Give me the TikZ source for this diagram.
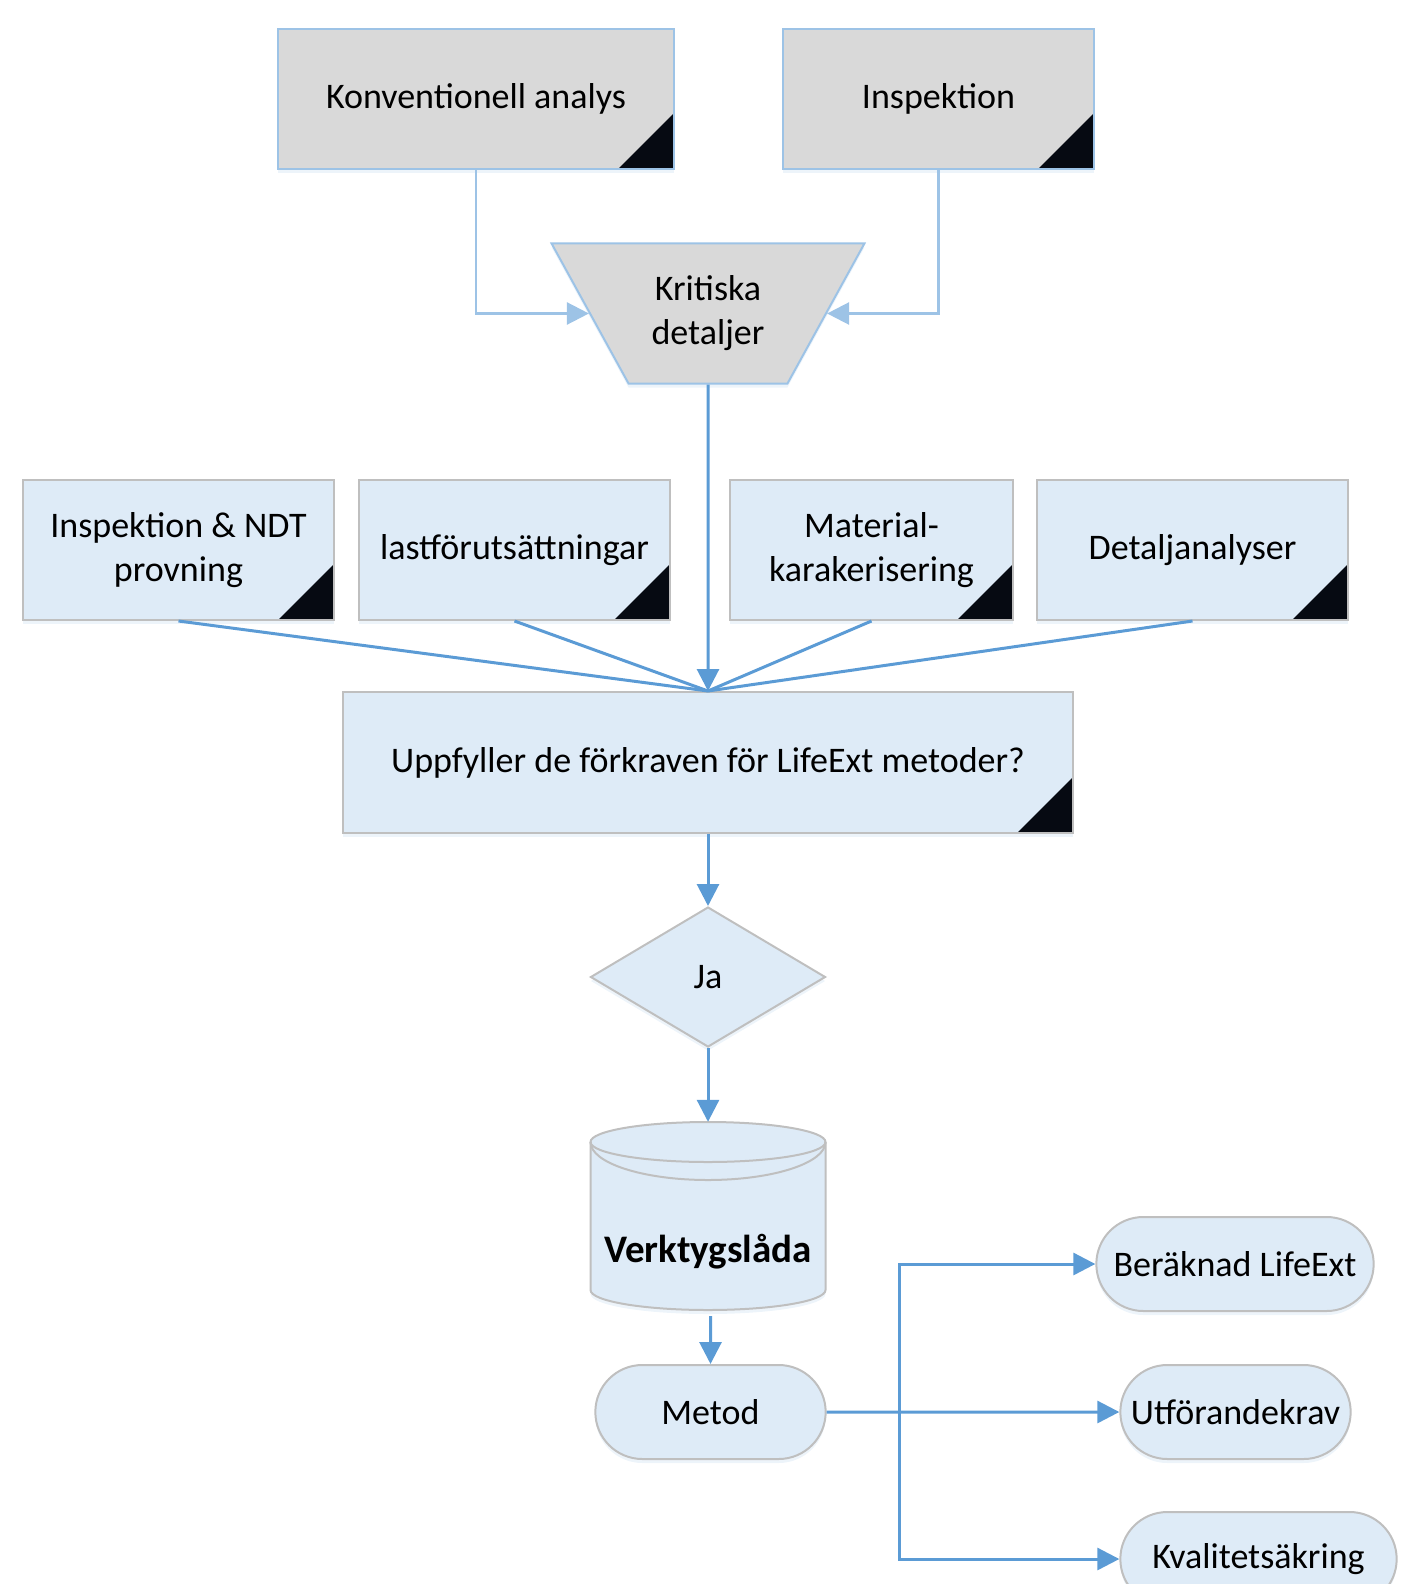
\documentclass[tikz,border=0pt]{standalone}
\usepackage{fontspec}
\setmainfont{Carlito}
\usetikzlibrary{positioning,shapes.geometric,shapes.misc,arrows.meta,shadows}
\definecolor{grayfill}{HTML}{D9D9D9}
\definecolor{lightedge}{HTML}{9DC3E6}
\definecolor{bluefill}{HTML}{DEEBF7}
\definecolor{grayedge}{HTML}{BFBFBF}
\definecolor{flowblue}{HTML}{5B9BD5}
\definecolor{tipdark}{HTML}{060A12}
\tikzset{
  darktip/.style={path picture={\fill[tipdark] (path picture bounding box.south east) -- ++(-56pt,0pt) -- ++(56pt,56pt) -- cycle;}},
  softshadow/.style={drop shadow={opacity=0.18,shadow xshift=0pt,shadow yshift=-4pt,fill=lightedge}},
  txt/.style={font=\fontsize{36}{44}\selectfont,align=center,text=black}
}
\begin{document}
\begin{tikzpicture}[x=1pt,y=-1pt,
  topbox/.style={txt,draw=lightedge,fill=grayfill,line width=2pt,minimum height=140pt,softshadow,darktip},
  midbox/.style={txt,draw=grayedge,fill=bluefill,line width=2pt,minimum height=140pt,softshadow,darktip},
  pill/.style={txt,rounded rectangle,draw=grayedge,fill=bluefill,line width=2pt,minimum height=94pt,softshadow},
  feed/.style={draw=lightedge,line width=2.5pt,-{Triangle[length=22pt,width=22pt]}},
  flow/.style={draw=flowblue,line width=3pt,-{Triangle[length=22pt,width=22pt]}},
  spoke/.style={draw=flowblue,line width=3pt}]
  \useasboundingbox (0,0) rectangle (1403,1584);

  \node[topbox,minimum width=396pt] (konv) at (476,99) {Konventionell analys};
  \node[topbox,minimum width=311pt] (insp) at (938.5,99) {Inspektion};
  \node[txt,trapezium,shape border rotate=180,trapezium angle=61.2,inner xsep=23pt,inner ysep=32.5pt,
        draw=lightedge,fill=grayfill,line width=2pt,softshadow]
        (krit) at (708,313.5) {Kritiska\\detaljer};

  \node[midbox,minimum width=311pt] (ndt) at (178.5,550) {Inspektion \& NDT\\provning};
  \node[midbox,minimum width=311pt] (last) at (514.5,550) {lastförutsättningar};
  \node[midbox,minimum width=283pt] (mat) at (871.5,550) {Material-\\karakerisering};
  \node[midbox,minimum width=311pt] (det) at (1192.5,550) {Detaljanalyser};
  \node[midbox,minimum width=730pt,minimum height=141pt] (fraga) at (708,762.5) {Uppfyller de förkraven för LifeExt metoder?};

  \node[txt,diamond,minimum width=235pt,minimum height=140pt,draw=grayedge,fill=bluefill,line width=2pt,softshadow] (ja) at (708,977) {Ja};

  \node[minimum width=235pt,minimum height=188pt,inner sep=0pt] (tool) at (708,1216) {};
  \filldraw[draw=grayedge,fill=bluefill,line width=2pt,softshadow] (590.5,1142) -- (590.5,1290)
    arc[start angle=180,end angle=360,x radius=117.5pt,y radius=20pt] -- (825.5,1142)
    arc[start angle=0,end angle=180,x radius=117.5pt,y radius=20pt] -- cycle;
  \draw[grayedge,line width=2pt] (590.5,1142) arc[start angle=180,end angle=360,x radius=117.5pt,y radius=20pt];
  \draw[grayedge,line width=2pt] (590.5,1142) arc[start angle=180,end angle=360,x radius=117.5pt,y radius=38pt];
  \node[txt,font=\fontsize{39}{46}\selectfont\bfseries] (verktyg) at (708,1252) {Verktygslåda};

  \node[pill,minimum width=237pt] (metod) at (710.5,1412) {Metod};
  \node[pill,minimum width=284pt] (ber) at (1235,1264) {Beräknad LifeExt};
  \node[pill,minimum width=237pt] (utf) at (1235.5,1412) {Utförandekrav};
  \node[pill,minimum width=283pt] (kval) at (1258.5,1559) {Kvalitetsäkring};

  \draw[feed] (konv.south) |- (krit);
  \draw[feed] (insp.south) |- (krit);
  \foreach \n in {ndt,last,mat,det}
    \draw[spoke] (\n.south) -- (fraga.north);
  \draw[flow] (krit) -- (fraga.north);
  \draw[flow] (fraga) -- (ja);
  \draw[flow] (ja) -- (tool.north);
  \draw[flow,shorten <=6pt] (tool.south -| metod.north) -- (metod);
  \coordinate (split) at (899,1412);
  \draw[flow] (metod) -- (utf);
  \draw[flow] (split) |- (ber);
  \draw[flow] (split) |- (kval);
\end{tikzpicture}
\end{document}
